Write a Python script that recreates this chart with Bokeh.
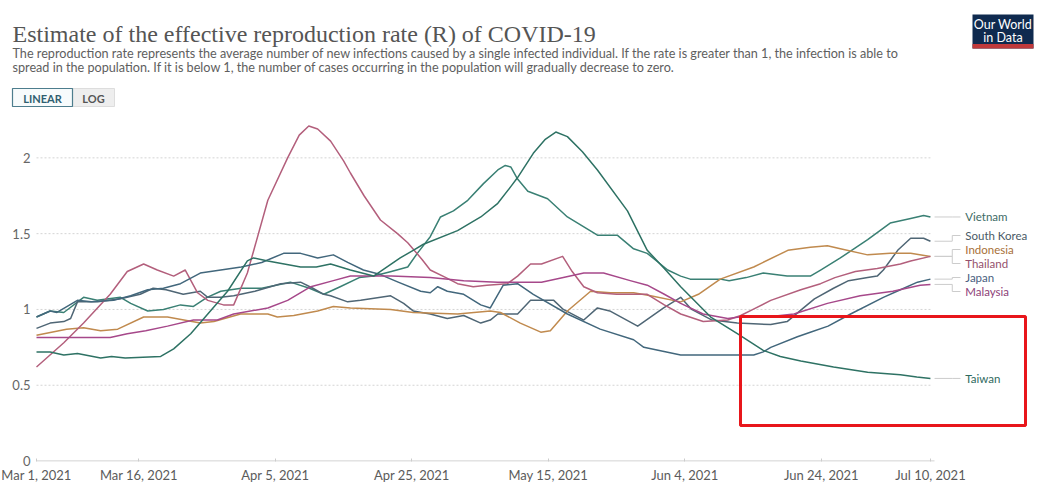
from bokeh.plotting import figure
from bokeh.models import Range1d, FixedTicker, BoxAnnotation, ColumnDataSource
from bokeh.core.properties import value
from bokeh.embed import file_html
from bokeh.resources import INLINE

# ---------------- texts ----------------
TITLE = "Estimate of the effective reproduction rate (R) of COVID-19"
SUB1 = ("The reproduction rate represents the average number of new infections caused by a single "
        "infected individual. If the rate is greater than 1, the infection is able to")
SUB2 = ("spread in the population. If it is below 1, the number of cases occurring in the population "
        "will gradually decrease to zero.")

# ---------------- axes ----------------
x_tick_days = [0, 15, 35, 55, 75, 95, 115, 131]          # days since Mar 1, 2021
x_tick_labels = ["Mar 1, 2021", "Mar 16, 2021", "Apr 5, 2021", "Apr 25, 2021",
                 "May 15, 2021", "Jun 4, 2021", "Jun 24, 2021", "Jul 10, 2021"]
y_ticks = [0, 0.5, 1, 1.5, 2]
y_tick_labels = ["0", "0.5", "1", "1.5", "2"]

# ---------------- data (day offset from Mar 1, 2021 ; R) ----------------
vietnam_day = [0, 2, 4, 6.9, 8.9, 12.3, 13.8, 16.3, 18.6, 21.1, 23, 25, 27, 30, 33, 37.2, 40, 42.1,
               44.5, 47.3, 49.4, 52, 54.4, 55.8, 57.7, 59.2, 61.1, 63.2, 65.5, 67.6, 68.7, 69.5, 70.5,
               72, 74.9, 77.8, 82.2, 85.1, 87.5, 89.5, 92.5, 94.4, 95.8, 100.2, 101.5, 104, 106.5,
               110, 113.4, 114.9, 117.8, 121.8, 125.1, 128.1, 130, 131]
vietnam_r = [0.95, 0.99, 0.98, 1.08, 1.06, 1.08, 1.04, 0.99, 1.0, 1.03, 1.02, 1.08, 1.12, 1.14, 1.14,
             1.18, 1.14, 1.1, 1.15, 1.21, 1.22, 1.25, 1.28, 1.37, 1.48, 1.61, 1.65, 1.72, 1.83, 1.92,
             1.95, 1.94, 1.86, 1.78, 1.73, 1.61, 1.49, 1.49, 1.40, 1.37, 1.26, 1.22, 1.2, 1.2, 1.19,
             1.21, 1.24, 1.22, 1.22, 1.26, 1.34, 1.46, 1.57, 1.60, 1.62, 1.61]

korea_day = [0, 2, 4, 5, 6, 9, 12.3, 15.2, 17.1, 19, 21.5, 24, 25.1, 27, 28.9, 32, 35.8, 38.7, 40.5,
             42.1, 43.1, 45.6, 47.5, 51.9, 53.8, 55.2, 57.7, 60.2, 62.6, 65.1, 66.5, 67.6, 70.5, 72.4,
             75.8, 77.2, 80.2, 82.2, 84, 88.1, 91.9, 94.4, 96, 99, 102.7, 107.6, 110, 112.4, 114,
             116.8, 119, 121.8, 123.2, 124.1, 126.2, 128.1, 130, 131]
korea_r = [0.875, 0.91, 0.92, 0.94, 1.05, 1.05, 1.07, 1.10, 1.14, 1.13, 1.10, 1.12, 1.08, 1.08, 1.09,
           1.12, 1.17, 1.18, 1.14, 1.10, 1.09, 1.05, 1.06, 1.09, 1.04, 0.99, 0.97, 0.94, 0.96, 0.91,
           0.93, 0.97, 0.97, 1.06, 1.06, 1.00, 0.93, 1.01, 0.99, 0.89, 1.01, 1.08, 1.00, 0.93, 0.91,
           0.90, 0.92, 1.01, 1.07, 1.14, 1.19, 1.21, 1.22, 1.26, 1.39, 1.47, 1.47, 1.45]

indonesia_day = [0, 4.4, 6.9, 9.4, 11.9, 15.7, 19.2, 24, 26, 29.9, 33.9, 35.3, 37.7, 41.2, 43.5, 46,
                 51.9, 55.2, 61.7, 66.5, 68, 70.9, 73.9, 75.3, 77.8, 81.2, 84.1, 87.5, 90, 94.4, 97,
                 100.2, 105.1, 110.1, 113.4, 115.9, 117.8, 121.8, 125.1, 128.1, 131]
indonesia_r = [0.83, 0.87, 0.88, 0.86, 0.87, 0.95, 0.95, 0.91, 0.92, 0.97, 0.97, 0.95, 0.96, 0.99,
               1.02, 1.01, 1.00, 0.98, 0.97, 0.99, 0.98, 0.91, 0.85, 0.86, 0.99, 1.12, 1.11, 1.11,
               1.09, 1.05, 1.10, 1.20, 1.28, 1.39, 1.41, 1.42, 1.40, 1.36, 1.37, 1.37, 1.35]

thailand_day = [0, 4, 6.9, 10.8, 13.3, 15.7, 17.7, 20.1, 21.8, 23.6, 25.1, 27.4, 28.9, 30.9, 33.9,
                36.8, 38.5, 39.9, 41.2, 43.1, 45, 46, 48, 50.4, 52.9, 54.4, 56.5, 57.7, 60, 61.7, 64,
                66, 69, 70.5, 72.4, 74, 77.1, 78.5, 80.2, 82.2, 85, 89.5, 92, 94.4, 97.7, 101.3,
                103.2, 105, 107.6, 112, 114.9, 117, 120, 123.2, 126.6, 128.1, 131]
thailand_r = [0.62, 0.78, 0.91, 1.10, 1.25, 1.30, 1.26, 1.22, 1.26, 1.11, 1.06, 1.03, 1.03, 1.24,
              1.72, 2.00, 2.15, 2.21, 2.19, 2.11, 1.98, 1.90, 1.75, 1.59, 1.50, 1.44, 1.33, 1.26,
              1.21, 1.17, 1.15, 1.16, 1.17, 1.22, 1.30, 1.30, 1.35, 1.25, 1.15, 1.11, 1.10, 1.10,
              1.03, 0.97, 0.92, 0.93, 0.96, 1.00, 1.06, 1.13, 1.17, 1.21, 1.25, 1.27, 1.30, 1.32,
              1.35]

japan_day = [0, 2, 3, 6, 8, 11.3, 13.8, 16.3, 18.6, 21.1, 24, 27, 30, 33, 36.2, 38.7, 41.2, 43.5,
             45.6, 47.9, 50.4, 53, 56.3, 57.7, 58.8, 60.2, 62.6, 65.1, 66.5, 68.4, 70.5, 72.8, 77.8,
             82.6, 87.5, 89, 94.4, 100, 105.1, 106.5, 107.6, 111.5, 113.4, 116, 119.3, 124.1, 126.6,
             129.1, 131]
japan_r = [0.95, 0.99, 0.98, 1.06, 1.05, 1.06, 1.09, 1.13, 1.14, 1.17, 1.24, 1.26, 1.28, 1.31, 1.37,
           1.37, 1.34, 1.36, 1.31, 1.26, 1.23, 1.18, 1.12, 1.11, 1.15, 1.12, 1.10, 1.03, 1.01, 1.16,
           1.17, 1.10, 0.97, 0.87, 0.80, 0.75, 0.70, 0.70, 0.70, 0.72, 0.75, 0.82, 0.85, 0.89, 0.97,
           1.08, 1.13, 1.18, 1.20]

malaysia_day = [0, 5, 10.8, 13.3, 16, 19.2, 23, 26.5, 28.9, 33.9, 36.8, 40.2, 43.5, 46, 52, 57.7,
                62.6, 67.6, 74, 77.2, 80.2, 83.1, 87, 89.5, 92, 94.4, 97.7, 101.3, 103, 107, 111,
                115.9, 120.7, 125.5, 129.5, 131]
malaysia_r = [0.815, 0.815, 0.815, 0.84, 0.86, 0.89, 0.93, 0.93, 0.97, 1.01, 1.06, 1.15, 1.19, 1.22,
              1.22, 1.21, 1.19, 1.18, 1.18, 1.21, 1.24, 1.24, 1.19, 1.16, 1.10, 1.04, 0.97, 0.94,
              0.95, 0.95, 0.97, 1.04, 1.09, 1.12, 1.16, 1.165]

taiwan_day = [0, 2, 4, 6, 9.4, 11, 13, 18.2, 20.1, 22.6, 25.1, 28, 30.9, 31.8, 33.9, 38.7, 41, 43.1,
              46, 49.4, 51, 53.3, 55.2, 56.7, 61.7, 65.1, 67.6, 69.5, 70.5, 72.8, 74.5, 76.1, 77.8,
              80, 82.2, 86.6, 89.5, 92, 94.4, 98.8, 102.7, 106.5, 109, 112, 116.8, 121.8, 126.6,
              129, 131]
taiwan_r = [0.72, 0.72, 0.70, 0.71, 0.68, 0.69, 0.68, 0.69, 0.74, 0.84, 0.97, 1.12, 1.32, 1.34, 1.32,
            1.28, 1.28, 1.30, 1.26, 1.22, 1.27, 1.34, 1.39, 1.43, 1.52, 1.61, 1.70, 1.81, 1.87, 2.03,
            2.12, 2.17, 2.14, 2.04, 1.92, 1.65, 1.39, 1.27, 1.15, 0.95, 0.84, 0.73, 0.69, 0.66, 0.62,
            0.585, 0.57, 0.555, 0.545]

countries = ["Vietnam", "South Korea", "Indonesia", "Thailand", "Japan", "Malaysia", "Taiwan"]
series_days = [vietnam_day, korea_day, indonesia_day, thailand_day, japan_day, malaysia_day, taiwan_day]
series_r = [vietnam_r, korea_r, indonesia_r, thailand_r, japan_r, malaysia_r, taiwan_r]
line_colors = ["#3a8074", "#4f6675", "#c08a4e", "#b35f7c", "#42677c", "#a6488a", "#2e7264"]
label_colors = ["#3d6b66", "#4a5a66", "#a86f38", "#94506c", "#4a6080", "#8e3f78", "#2f6a5e"]

# ---------------- geometry (pixels) ----------------
W = 1036
H = 488
ORIGIN_PX = 36          # pixel column of Mar 1, 2021
BOTTOM = 27
FRAME_BOTTOM = H - BOTTOM
PX_PER_UNIT = 151.6
Y0 = -0.003
Y1 = Y0 + FRAME_BOTTOM / PX_PER_UNIT
PX_PER_DAY = 6.824
X0 = -ORIGIN_PX / PX_PER_DAY
X1 = (W - ORIGIN_PX) / PX_PER_DAY


def dx(px):   # page pixel -> day units
    return (px - ORIGIN_PX) / PX_PER_DAY


def dy(py):   # page pixel -> R units
    return Y0 + (FRAME_BOTTOM - py) / PX_PER_UNIT


# highlight box drawn on the picture (annotation, not data)
HIGHLIGHT = dict(start_day=dx(740), end_day=dx(1025), low=dy(425), high=dy(316))

p = figure(width=W, height=H, x_range=Range1d(X0, X1), y_range=Range1d(Y0, Y1),
           toolbar_location=None, output_backend="svg",
           min_border_left=0, min_border_right=0, min_border_top=0, min_border_bottom=BOTTOM)
p.outline_line_color = None
p.xgrid.visible = False
p.ygrid.visible = False
p.background_fill_color = "white"
p.border_fill_color = "white"

# ---------------- header ----------------
p.text(x=[dx(12)], y=[dy(33)], text=[TITLE], text_font=value("Liberation Serif"),
       text_font_size="24px", text_color="#555555", text_baseline="alphabetic")
p.text(x=[dx(12), dx(12)], y=[dy(53), dy(67)], text=[SUB1, SUB2], text_font=value("Lato"),
       text_font_size="12.65px", text_color="#5e5e5e", text_baseline="alphabetic")

p.quad(left=[dx(70)], right=[dx(114)], top=[dy(88)], bottom=[dy(106)],
       fill_color="#eeeeee", line_color="#dddddd", line_width=1)
p.quad(left=[dx(12)], right=[dx(72)], top=[dy(88)], bottom=[dy(106)],
       fill_color="#f7fbfc", line_color="#4d7d8d", line_width=1.2)
p.text(x=[dx(42), dx(93)], y=[dy(97.5), dy(97.5)], text=["LINEAR", "LOG"],
       text_font=value("Lato"), text_font_size="11px", text_color=["#2f5f70", "#555555"],
       text_align="center", text_baseline="middle", text_font_style="bold")

p.quad(left=[dx(972)], right=[dx(1033)], top=[dy(14)], bottom=[dy(48)],
       fill_color="#0f2a4f", line_color=None)
p.quad(left=[dx(972)], right=[dx(1033)], top=[dy(43.5)], bottom=[dy(48)],
       fill_color="#c0393b", line_color=None)
p.text(x=[dx(1002.5), dx(1002.5)], y=[dy(24), dy(36.5)], text=["Our World", "in Data"],
       text_font=value("Lato"), text_font_size="12.5px", text_color="white",
       text_align="center", text_baseline="middle")

# ---------------- chart ----------------
last_day = max(max(d) for d in series_days)

p.segment(x0=[0] * (len(y_ticks) - 1), x1=[last_day] * (len(y_ticks) - 1),
          y0=y_ticks[1:], y1=y_ticks[1:], line_color="#d4d4d4", line_dash="2 2", line_width=1)
p.segment(x0=[0], x1=[last_day + 0.6], y0=[0], y1=[0], line_color="#c4c4c4", line_width=1)

p.xaxis.ticker = FixedTicker(ticks=x_tick_days)
p.xaxis.major_label_overrides = {d: t for d, t in zip(x_tick_days, x_tick_labels)}
p.xaxis.axis_line_color = None
p.xaxis.major_tick_in = 3
p.xaxis.major_tick_out = 0
p.xaxis.major_tick_line_color = "#cccccc"
p.xaxis.minor_tick_line_color = None
p.xaxis.major_label_standoff = 5
p.xaxis.major_label_text_font = "Lato"
p.xaxis.major_label_text_font_size = "13px"
p.xaxis.major_label_text_color = "#5b5b5b"

# y-axis labels sit just left of Mar 1 (inside the canvas' left strip)
p.yaxis.ticker = FixedTicker(ticks=y_ticks)
p.yaxis.major_label_overrides = {v: t for v, t in zip(y_ticks, y_tick_labels)}
p.yaxis.axis_line_color = None
p.yaxis.major_tick_in = 0
p.yaxis.major_tick_out = 0
p.yaxis.major_tick_line_color = None
p.yaxis.minor_tick_line_color = None
p.yaxis.major_label_standoff = -30
p.yaxis.major_label_text_font = "Lato"
p.yaxis.major_label_text_font_size = "13px"
p.yaxis.major_label_text_color = "#666666"

for name, d, r, c in zip(countries, series_days, series_r, line_colors):
    src = ColumnDataSource(dict(x=d, y=r))
    p.line("x", "y", source=src, line_color=c, line_width=1.5, line_join="round")

# end labels with simple collision avoidance
GAP = 14.0 / PX_PER_UNIT
ends = [r[-1] for r in series_r]
order = sorted(range(len(ends)), key=lambda i: -ends[i])
groups = [[i] for i in order]


def group_pos(g):
    c = sum(ends[i] for i in g) / len(g)
    top = c + GAP * (len(g) - 1) / 2.0
    return [top - k * GAP for k in range(len(g))]


changed = True
while changed:
    changed = False
    for j in range(len(groups) - 1):
        a = group_pos(groups[j])
        b = group_pos(groups[j + 1])
        if a[-1] - b[0] < GAP - 1e-9:
            groups[j] = groups[j] + groups[j + 1]
            del groups[j + 1]
            changed = True
            break

label_y = [0.0] * len(ends)
for g in groups:
    for i, yv in zip(g, group_pos(g)):
        label_y[i] = yv

x_end = last_day + 0.6
x_bend = last_day + 3.2
x_lab0 = last_day + 4.4
x_text = last_day + 5.1
for i in range(len(ends)):
    p.line([x_end, x_bend, x_bend, x_lab0], [ends[i], ends[i], label_y[i], label_y[i]],
           line_color="#cccccc", line_width=1)

p.text(x=[x_text] * len(countries), y=label_y, text=countries, text_font=value("Lato"),
       text_font_size="11.5px", text_color=label_colors, text_baseline="middle")

# red highlight box
p.add_layout(BoxAnnotation(left=HIGHLIGHT["start_day"], right=HIGHLIGHT["end_day"],
                           bottom=HIGHLIGHT["low"], top=HIGHLIGHT["high"],
                           fill_color=None, fill_alpha=0, line_color="#e8161b", line_alpha=1,
                           line_width=3))

open("out.html", "w").write(file_html(p, INLINE))
